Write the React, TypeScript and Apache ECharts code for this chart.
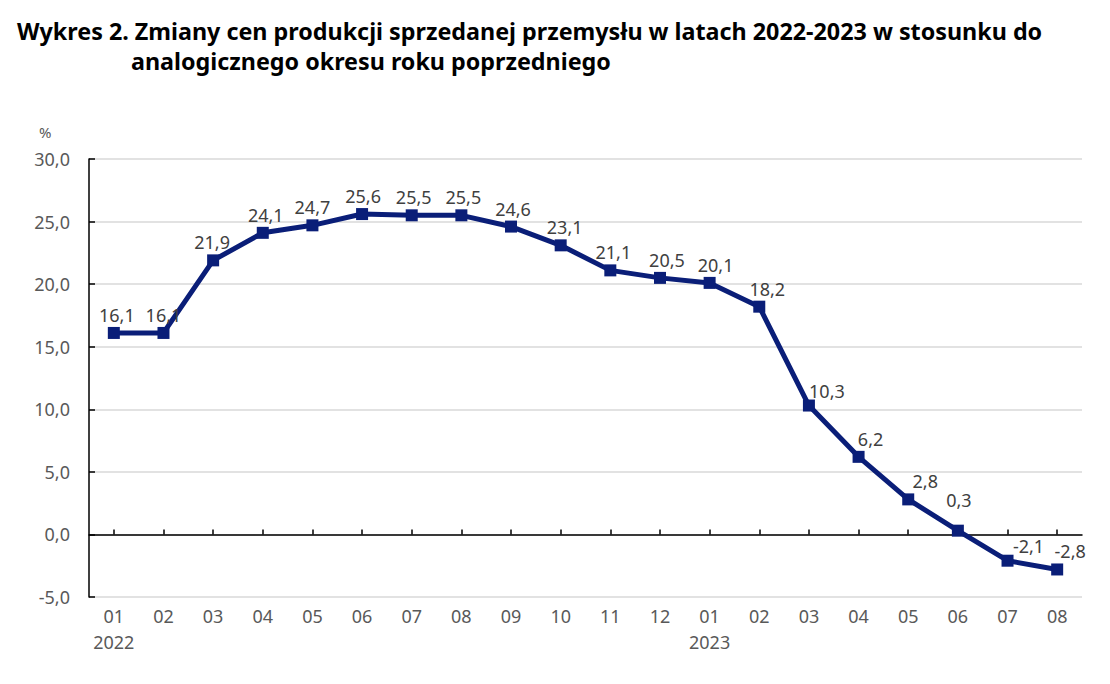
import React, { useEffect, useRef } from "react";
import * as echarts from "echarts";

const MONTHS = ["01", "02", "03", "04", "05", "06", "07", "08", "09", "10", "11", "12", "01", "02", "03", "04", "05", "06", "07", "08"];
const YEARS = ["2022", "", "", "", "", "", "", "", "", "", "", "", "2023", "", "", "", "", "", "", ""];
const VALUES = [16.1, 16.1, 21.9, 24.1, 24.7, 25.6, 25.5, 25.5, 24.6, 23.1, 21.1, 20.5, 20.1, 18.2, 10.3, 6.2, 2.8, 0.3, -2.1, -2.8];
const Y_MIN = -5;
const Y_MAX = 30;
const Y_STEP = 5;
const TITLE_1 = "Wykres 2. Zmiany cen produkcji sprzedanej przemysłu w latach 2022-2023 w stosunku do";
const TITLE_2 = "analogicznego okresu roku poprzedniego";
const UNIT = "%";

// label nudges (style)
const LABEL_DX = [3, 0, -1, 3, 0, 1, 2, 2, 2, 4, 3, 7, 6, 8, 18, 12, 17, 1, 21, 13];
const LABEL_DY = [0, 0, 0, 0, 0, 0, 0, 0, 0, 0, 0, 0, 0, 0, 3, 0, 0, -13, 3, 0];

const NAVY = "#0a1e78";
const FONT = "'Noto Sans', sans-serif";
const TITLE_FONT = "'Noto Sans', sans-serif";

export default function App() {
  const ref = useRef<HTMLDivElement>(null);
  useEffect(() => {
    if (!ref.current) return;
    const chart = echarts.init(ref.current, undefined, { renderer: "svg" });
    const cats = MONTHS.map((m, i) => (YEARS[i] ? m + "\n" + YEARS[i] : m));
    chart.setOption({
      animation: false,
      backgroundColor: "#ffffff",
      graphic: [
        {
          type: "text",
          left: 17,
          top: 19,
          style: { text: TITLE_1, font: "bold 23.3px " + TITLE_FONT, fill: "#000000" },
        },
        {
          type: "text",
          left: 131,
          top: 49,
          style: { text: TITLE_2, font: "bold 23.3px " + TITLE_FONT, fill: "#000000" },
        },
        {
          type: "text",
          left: 39,
          top: 124,
          style: { text: UNIT, font: "15px " + FONT, fill: "#595959" },
        },
      ],
      grid: { left: 89, right: 28, top: 159, bottom: 87, containLabel: false },
      xAxis: {
        type: "category",
        data: cats,
        boundaryGap: true,
        axisLine: { show: true, onZero: true, lineStyle: { color: "#000000", width: 1.5 } },
        axisTick: { show: true, inside: true, alignWithLabel: true, length: 5, lineStyle: { color: "#000000", width: 1.5 } },
        axisLabel: {
          color: "#595959",
          fontSize: 18,
          fontFamily: FONT,
          lineHeight: 26,
          margin: 6,
          interval: 0,
          verticalAlign: "top",
        },
        splitLine: { show: false },
      },
      yAxis: {
        type: "value",
        min: Y_MIN,
        max: Y_MAX,
        interval: Y_STEP,
        axisLine: { show: true, lineStyle: { color: "#000000", width: 1.5 } },
        axisTick: { show: true, inside: true, length: 6, lineStyle: { color: "#000000", width: 1.5 } },
        axisLabel: {
          color: "#595959",
          fontSize: 18,
          fontFamily: FONT,
          margin: 19,
          formatter: (v: number) => v.toFixed(1).replace(".", ","),
        },
        splitLine: { show: true, lineStyle: { color: "#d9d9d9", width: 1.5 } },
      },
      series: [
        {
          type: "line",
          data: VALUES.map((v, i) => ({
            value: v,
            label: { offset: [LABEL_DX[i], LABEL_DY[i]] },
          })),
          symbol: "rect",
          symbolSize: 12,
          lineStyle: { color: NAVY, width: 5 },
          itemStyle: { color: NAVY },
          label: {
            show: true,
            position: "top",
            distance: 3,
            color: "#404040",
            fontSize: 18,
            fontFamily: FONT,
            formatter: (p: any) => String(p.value).replace(".", ","),
          },
          z: 3,
        },
      ],
    });
    return () => chart.dispose();
  }, []);
  return <div ref={ref} style={{ position: "absolute", left: 0, top: 0, width: 1110, height: 684 }} />;
}
